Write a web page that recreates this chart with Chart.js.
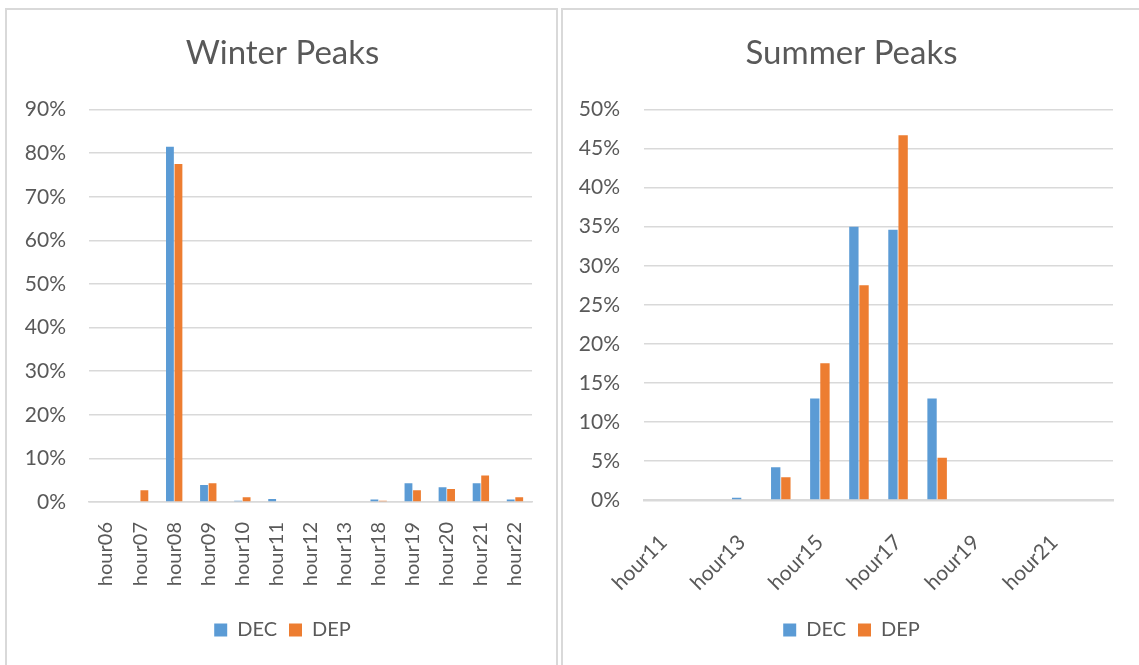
<!DOCTYPE html>
<html lang="en">
<head>
  <meta charset="UTF-8">
  <title>Winter and Summer Peaks</title>
  <style>
    body {
      margin: 0;
      background: #fff;
      width: 1139px;
      height: 665px;
      overflow: hidden;
      position: relative;
      font-family: 'Lato', sans-serif;
    }
    .panel {
      position: absolute;
      top: 8px;
      height: 665px;
      border: 2px solid #d9d9d9;
      box-sizing: border-box;
      background: #fff;
    }
    #winterBox { left: 5px; width: 553px; }
    #summerBox { left: 561px; width: 590px; }
    .panel canvas { position: absolute; left: 0; top: 0; }
  </style>
  <script src="https://cdn.jsdelivr.net/npm/chart.js"></script>
</head>
<body>
  <div class="panel" id="winterBox"><canvas id="winterChart" width="551" height="657"></canvas></div>
  <div class="panel" id="summerBox"><canvas id="summerChart" width="577" height="657"></canvas></div>
  <script>
    // Winter peaks (percent of peaks per hour)
    const winterHours = ['hour06', 'hour07', 'hour08', 'hour09', 'hour10', 'hour11', 'hour12',
                         'hour13', 'hour18', 'hour19', 'hour20', 'hour21', 'hour22'];
    const winterDEC = [0, 0, 81.5, 3.9, 0.3, 0.7, 0, 0, 0.6, 4.3, 3.4, 4.3, 0.6];
    const winterDEP = [0, 2.7, 77.5, 4.3, 1.1, 0.2, 0.2, 0.2, 0.3, 2.7, 3.0, 6.1, 1.1];

    // Summer peaks
    const summerHours = ['hour11', 'hour12', 'hour13', 'hour14', 'hour15', 'hour16',
                         'hour17', 'hour18', 'hour19', 'hour20', 'hour21', 'hour22'];
    const summerDEC = [0, 0, 0.3, 4.2, 13, 35, 34.6, 13, 0, 0, 0, 0];
    const summerDEP = [0, 0, 0, 2.9, 17.5, 27.5, 46.7, 5.4, 0, 0, 0, 0];

    const BLUE = '#5b9bd5';
    const ORANGE = '#ed7d31';
    const TEXT = '#595959';
    const GRID = '#d9d9d9';

    Chart.defaults.font.family = "'Lato', sans-serif";
    Chart.defaults.color = TEXT;

    function makeChart(id, opts) {
      const ctx = document.getElementById(id).getContext('2d');
      return new Chart(ctx, {
        type: 'bar',
        data: {
          labels: opts.labels,
          datasets: [
            { label: 'DEC', data: opts.dec, backgroundColor: BLUE, categoryPercentage: opts.catPct, barPercentage: 0.92 },
            { label: 'DEP', data: opts.dep, backgroundColor: ORANGE, categoryPercentage: opts.catPct, barPercentage: 0.92 }
          ]
        },
        options: {
          responsive: false,
          animation: false,
          layout: { padding: { left: 0, right: 0, top: 0, bottom: 17 } },
          plugins: {
            title: {
              display: true,
              text: opts.title,
              color: TEXT,
              font: { size: 33, weight: 'normal' },
              padding: { top: 24, bottom: 36 }
            },
            legend: {
              position: 'bottom',
              labels: {
                boxWidth: 13,
                boxHeight: 13,
                padding: 12,
                color: TEXT,
                font: { size: 20 }
              }
            },
            tooltip: { enabled: false }
          },
          scales: {
            x: {
              grid: { display: false },
              border: { color: GRID, width: opts.axisWidth },
              afterFit: s => {
                s.height = opts.xHeight;
                // keep the plot clear of the panel's right edge
                s.paddingRight = Math.max(s.paddingRight, opts.padRight);
              },
              ticks: {
                autoSkip: false,
                minRotation: opts.rot,
                maxRotation: opts.rot,
                padding: opts.xPad,
                font: { size: opts.xFont },
                color: TEXT,
                callback: opts.xCallback
              }
            },
            y: {
              min: 0,
              max: opts.max,
              afterFit: s => { s.width = opts.yWidth; },
              border: { display: false },
              grid: { color: GRID, lineWidth: opts.gridWidth, drawTicks: false },
              ticks: {
                stepSize: opts.step,
                padding: opts.yPad,
                font: { size: 21 },
                color: TEXT,
                callback: v => v + '%'
              }
            }
          }
        }
      });
    }

    makeChart('winterChart', {
      title: 'Winter Peaks',
      labels: winterHours,
      dec: winterDEC,
      dep: winterDEP,
      max: 90,
      step: 10,
      rot: 90,
      catPct: 0.5,
      yWidth: 82,
      xHeight: 106,
      padRight: 26,
      xPad: 12,
      xFont: 20,
      yPad: 23,
      axisWidth: 1.5,
      gridWidth: 1.5,
      xCallback: function (v, i) { return winterHours[i]; }
    });

    makeChart('summerChart', {
      title: 'Summer Peaks',
      labels: summerHours,
      dec: summerDEC,
      dep: summerDEP,
      max: 50,
      step: 5,
      rot: 45,
      catPct: 0.52,
      yWidth: 81,
      xHeight: 108,
      padRight: 27,
      xPad: 22,
      xFont: 21,
      yPad: 24,
      axisWidth: 2.5,
      gridWidth: 1.5,
      xCallback: function (v, i) { return i % 2 === 0 ? summerHours[i] : ''; }
    });
  </script>
</body>
</html>
